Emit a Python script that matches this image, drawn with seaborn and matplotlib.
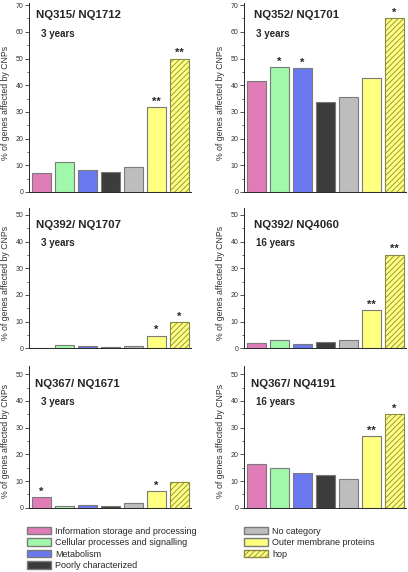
import matplotlib
matplotlib.use('Agg')
import matplotlib.pyplot as plt
import matplotlib.patches as mpatches
from matplotlib.ticker import MultipleLocator
import seaborn as sns
import pandas as pd

categories = ['Information storage and processing', 'Cellular processes and signalling',
              'Metabolism', 'Poorly characterized', 'No category',
              'Outer membrane proteins', 'hop']
colors = ['#e07cb8', '#a2f8aa', '#6a78f0', '#3c3c3c', '#bdbdbd', '#ffff80', '#ffff80']

titles = ['NQ315/ NQ1712', 'NQ352/ NQ1701', 'NQ392/ NQ1707',
          'NQ392/ NQ4060', 'NQ367/ NQ1671', 'NQ367/ NQ4191']
years = ['3 years', '3 years', '3 years', '16 years', '3 years', '16 years']

vals_315_1712 = [7.0, 11.1, 8.1, 7.4, 9.2, 31.7, 50.0]
vals_352_1701 = [41.6, 46.7, 46.3, 33.6, 35.5, 42.8, 65.0]
vals_392_1707 = [0.0, 1.2, 0.9, 0.4, 0.9, 4.7, 9.8]
vals_392_4060 = [1.9, 3.0, 1.5, 2.5, 3.0, 14.3, 35.0]
vals_367_1671 = [3.9, 0.8, 1.1, 0.8, 1.6, 6.1, 9.8]
vals_367_4191 = [16.4, 14.8, 12.9, 12.1, 10.6, 26.8, 35.0]

stars_315_1712 = ['', '', '', '', '', '**', '**']
stars_352_1701 = ['', '*', '*', '', '', '', '*']
stars_392_1707 = ['', '', '', '', '', '*', '*']
stars_392_4060 = ['', '', '', '', '', '**', '**']
stars_367_1671 = ['*', '', '', '', '', '*', '']
stars_367_4191 = ['', '', '', '', '', '**', '*']

values = [vals_315_1712, vals_352_1701, vals_392_1707,
          vals_392_4060, vals_367_1671, vals_367_4191]
stars = [stars_315_1712, stars_352_1701, stars_392_1707,
         stars_392_4060, stars_367_1671, stars_367_4191]

sns.set_style('ticks')
plt.rcParams['font.family'] = ['Liberation Sans', 'DejaVu Sans']
plt.rcParams['hatch.linewidth'] = 0.6

W, H = 408, 572
fig = plt.figure(figsize=(W / 100, H / 100), dpi=100)

# panel frames in pixels: left, right, bottom, ylim top
lefts = [29, 244]
rows = [(192, 70.6, 70, 10), (348.3, 52.4, 50, 10), (507.7, 53.0, 50, 10)]
pxu = 2.67
title_pos = [(0.043, 0.937, 0.074, 0.84), (0.062, 0.937, 0.072, 0.84),
             (0.043, 0.884, 0.074, 0.753), (0.062, 0.884, 0.077, 0.753),
             (0.040, 0.871, 0.074, 0.746), (0.042, 0.871, 0.077, 0.746)]

for i in range(6):
    r, c = divmod(i, 2)
    bottom, ytop, ymax, step = rows[r]
    x0 = lefts[c]
    h = ytop * pxu
    ax = fig.add_axes([x0 / W, 1 - bottom / H, 162 / W, h / H])
    df = pd.DataFrame({'category': categories, 'value': values[i]})
    sns.barplot(data=df, x='category', y='value', hue='category',
                palette=colors, order=categories, hue_order=categories,
                width=0.8, saturation=1, edgecolor='#7a7a7a', linewidth=0.8,
                legend=False, ax=ax)
    for j, p in enumerate(ax.patches):
        if categories[j] == 'hop':
            p.set_hatch('//////')
            p.set_edgecolor('#8a8a40')
    for j, s in enumerate(stars[i]):
        if s:
            ax.annotate(s, (j, values[i][j]), xytext=(0, 0.5),
                        textcoords='offset points', ha='center', va='bottom',
                        fontsize=8, fontweight='bold')
    ax.set_xlim(-0.55, 6.5)
    ax.set_ylim(0, ytop)
    ax.set_yticks(range(0, ymax + 1, step))
    ax.yaxis.set_minor_locator(MultipleLocator(5))
    ax.set_xticks([])
    ax.set_xlabel('')
    ax.set_ylabel('% of genes affected by CNPs', fontsize=6.3, color='#333333')
    ax.yaxis.set_label_coords(-0.12, 0.47)
    ax.tick_params(axis='y', which='major', labelsize=5, length=3, width=0.6,
                   pad=1, colors='#333333')
    ax.tick_params(axis='y', which='minor', length=1.5, width=0.5)
    sns.despine(ax=ax)
    for sp in ['left', 'bottom']:
        ax.spines[sp].set_linewidth(0.7)
    tx, ty, yx, yy = title_pos[i]
    ax.text(tx, ty, titles[i], transform=ax.transAxes, fontsize=8.2,
            fontweight='bold', va='center', ha='left')
    ax.text(yx, yy, years[i], transform=ax.transAxes, fontsize=7,
            fontweight='bold', va='center', ha='left')

handles = []
for cat, col in zip(categories, colors):
    if cat == 'hop':
        handles.append(mpatches.Patch(facecolor=col, edgecolor='#8a8a40',
                                      hatch='//////', label=cat))
    else:
        handles.append(mpatches.Patch(facecolor=col, edgecolor='#7a7a7a', label=cat))

leg_kw = dict(loc='upper left', frameon=False, fontsize=6.5, borderpad=0,
              handlelength=2.7, handleheight=0.9, handletextpad=0.45,
              labelspacing=0.28, borderaxespad=0)
fig.legend(handles=handles[:4], bbox_to_anchor=(27 / W, 1 - 526.5 / H), **leg_kw)
fig.legend(handles=handles[4:], bbox_to_anchor=(244 / W, 1 - 526.5 / H), **leg_kw)

fig.savefig('out.png', dpi=100)
